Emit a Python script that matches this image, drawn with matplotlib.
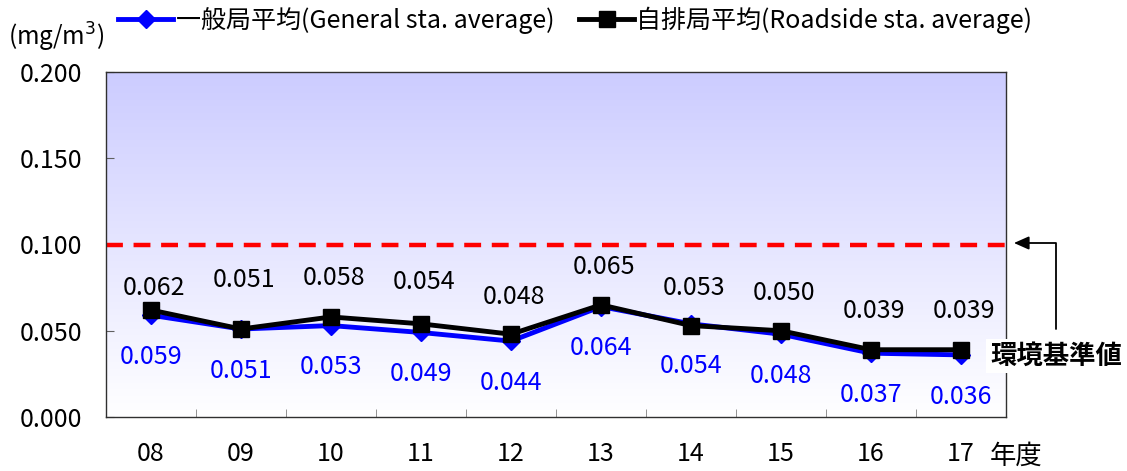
import numpy as np
import matplotlib
matplotlib.use("Agg")
import matplotlib.pyplot as plt
from matplotlib.colors import LinearSegmentedColormap
from matplotlib.ticker import FixedLocator

plt.rcParams['font.family'] = ['Noto Sans CJK JP', 'DejaVu Sans']

years = ["08", "09", "10", "11", "12", "13", "14", "15", "16", "17"]
general = [0.059, 0.051, 0.053, 0.049, 0.044, 0.064, 0.054, 0.048, 0.037, 0.036]
roadside = [0.062, 0.051, 0.058, 0.054, 0.048, 0.065, 0.053, 0.050, 0.039, 0.039]
standard = 0.100
yticks = [0.000, 0.050, 0.100, 0.150, 0.200]
general_label = "一般局平均(General sta. average)"
roadside_label = "自排局平均(Roadside sta. average)"

# label offsets in points (style only)
road_off = [16, 35, 28, 30, 27, 27, 27, 27, 28, 28]
gen_off = 30

fig = plt.figure(figsize=(11.27, 4.71), dpi=100)
ax = fig.add_axes([106/1127, 1 - 417/471, 900/1127, (417-72)/471])

x = np.arange(len(years))
ax.set_xlim(-0.5, len(years) - 0.5)
ax.set_ylim(0, 0.2)

# gradient background
cmap = LinearSegmentedColormap.from_list("g", [(1, 1, 1), (0.80, 0.80, 1.0)])
grad = np.linspace(0, 1, 256).reshape(-1, 1)
ax.imshow(grad, aspect='auto', cmap=cmap, origin='lower',
          extent=[-0.5, len(years) - 0.5, 0, 0.2], zorder=0)

ax.axhline(standard, color='#ff0000', lw=3.2, dashes=(3.8, 2.4), zorder=2)

ax.plot(x, general, color='#0000ff', lw=3.5, marker='D', ms=9, zorder=3,
        label=general_label)
ax.plot(x, roadside, color='black', lw=3.5, marker='s', ms=11, zorder=4,
        label=roadside_label)

fs = 18
for i, v in enumerate(roadside):
    ax.annotate(f"{v:.3f}", (x[i], v), xytext=(2, road_off[i]),
                textcoords='offset points', ha='center', va='center',
                fontsize=fs, color='black', zorder=5)
for i, v in enumerate(general):
    ax.annotate(f"{v:.3f}", (x[i], v), xytext=(0, -gen_off),
                textcoords='offset points', ha='center', va='center',
                fontsize=fs, color='#0000ff', zorder=5)

ax.set_yticks(yticks)
ax.set_yticklabels([f"{t:.3f}" for t in yticks], fontsize=fs)
ax.tick_params(axis='y', direction='in', length=6, pad=17, color='#606060')
ax.set_xticks(x)
ax.set_xticklabels(years, fontsize=fs)
ax.tick_params(axis='x', which='major', length=0, pad=17)
ax.xaxis.set_minor_locator(FixedLocator(np.arange(0.5, len(years) - 1, 1)))
ax.tick_params(axis='x', which='minor', direction='in', length=6, color='#808080')
for s in ax.spines.values():
    s.set_color('#303030')
    s.set_linewidth(1.0)

fig.text(8/1127, 1 - 37/471, "(mg/m$^3$)", fontsize=17.5, va='center', ha='left')
fig.text(990/1127, 1 - 456/471, "年度", fontsize=19, va='center', ha='left')

fig.text(990/1127, 1 - 356/471, "環境基準値", fontsize=19, fontweight='bold',
         va='center', ha='left', zorder=10,
         bbox=dict(boxstyle='square,pad=0.15', fc='white', ec='none'))
ax.annotate('', xy=(1014, 471 - 243), xycoords='figure pixels',
            xytext=(1056, 471 - 329), textcoords='figure pixels',
            arrowprops=dict(arrowstyle='-|>,head_length=0.9,head_width=0.4',
                            connectionstyle='angle,angleA=90,angleB=0,rad=0',
                            color='black', lw=1.3, shrinkA=0, shrinkB=0))

leg = fig.legend(loc='center left', bbox_to_anchor=(118/1127, 1 - 20/471),
                 ncol=2, frameon=False, fontsize=18, handlelength=2.2,
                 handletextpad=0.1, columnspacing=1.0, borderaxespad=0,
                 borderpad=0)

fig.savefig("out.png", dpi=100)
